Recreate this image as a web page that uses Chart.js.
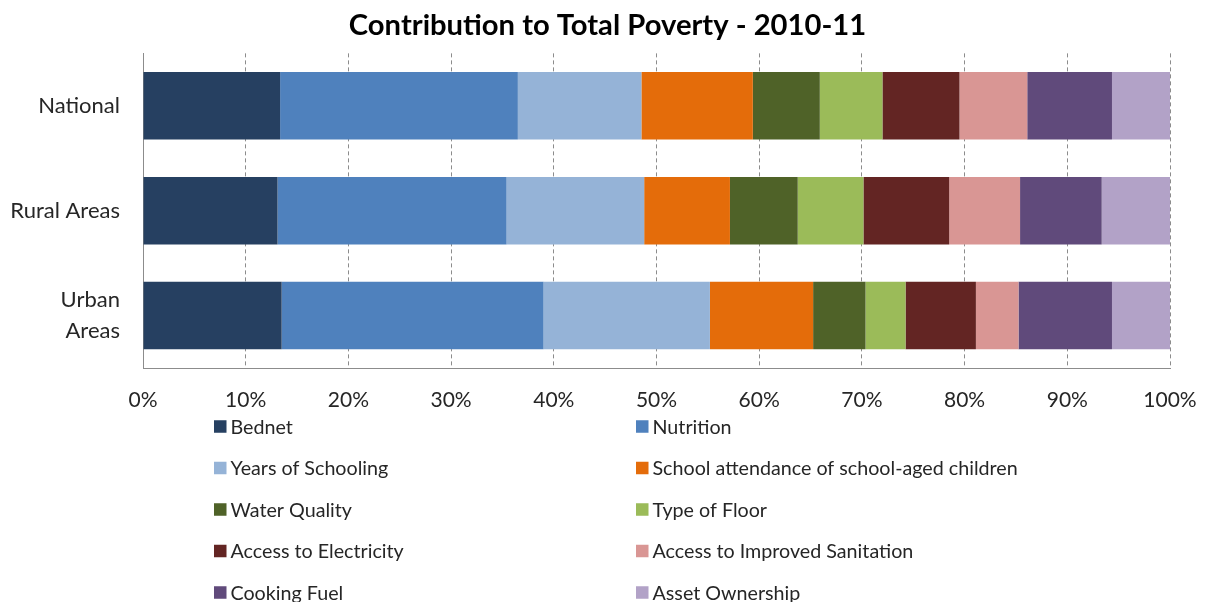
<!DOCTYPE html>
<html>
<head>
<meta charset="utf-8">
<script src="https://cdn.jsdelivr.net/npm/chart.js@4.4.1/dist/chart.umd.min.js"></script>
<style>
  html, body { margin: 0; padding: 0; background: #ffffff; }
  #wrap { width: 1206px; height: 602px; position: relative; }
</style>
</head>
<body>
<div id="wrap"><canvas id="c" width="1206" height="602"></canvas></div>
<script>
// ---- data ----
const chartTitle = 'Contribution to Total Poverty - 2010-11';
const categories = ['National', 'Rural Areas', ['Urban', 'Areas']];
const seriesNames = [
  'Bednet', 'Nutrition', 'Years of Schooling', 'School attendance of school-aged children',
  'Water Quality', 'Type of Floor', 'Access to Electricity', 'Access to Improved Sanitation',
  'Cooking Fuel', 'Asset Ownership'
];
const bednet      = [13.35, 13.1, 13.5];
const nutrition   = [23.15, 22.3, 25.5];
const schooling   = [12.03, 13.4, 16.2];
const attendance  = [10.85, 8.35, 10.05];
const water       = [6.52, 6.6, 5.1];
const floorType   = [6.1, 6.4, 3.9];
const electricity = [7.5, 8.35, 6.85];
const sanitation  = [6.6, 6.9, 4.15];
const cookingFuel = [8.25, 7.95, 9.1];
const assets      = [5.65, 6.65, 5.65];
const xTickValues = [0, 10, 20, 30, 40, 50, 60, 70, 80, 90, 100];

const seriesValues = [bednet, nutrition, schooling, attendance, water, floorType, electricity, sanitation, cookingFuel, assets];
const seriesColors = ['#264061', '#4F81BD', '#95B3D7', '#E46C0A', '#4F6228', '#9BBB59', '#632523', '#D99694', '#604A7B', '#B2A2C7'];

const FONT = 'Lato, "Open Sans", sans-serif';
const TEXT = '#262626';

const gridLegend = {
  id: 'gridLegend',
  afterDraw(chart, args, opts) {
    const ctx = chart.ctx;
    ctx.save();
    ctx.font = opts.fontSize + 'px ' + FONT;
    ctx.textBaseline = 'middle';
    ctx.textAlign = 'left';
    chart.data.datasets.forEach((ds, i) => {
      const col = i % 2, row = Math.floor(i / 2);
      const x = opts.colX[col];
      const y = opts.rowY0 + row * opts.rowGap;
      ctx.fillStyle = ds.backgroundColor;
      ctx.fillRect(x, y - opts.box / 2, opts.box, opts.box);
      ctx.fillStyle = TEXT;
      ctx.fillText(ds.label, x + opts.box + 4, y + 1);
    });
    ctx.restore();
  }
};

const titleText = {
  id: 'titleText',
  afterDraw(chart, args, opts) {
    const ctx = chart.ctx;
    ctx.save();
    ctx.font = 'bold ' + opts.fontSize + 'px ' + FONT;
    ctx.fillStyle = '#000000';
    ctx.textAlign = 'center';
    ctx.textBaseline = 'middle';
    ctx.fillText(opts.text, opts.x, opts.y);
    ctx.restore();
  }
};

new Chart(document.getElementById('c'), {
  type: 'bar',
  data: {
    labels: categories,
    datasets: seriesNames.map((name, i) => ({
      label: name,
      data: seriesValues[i],
      backgroundColor: seriesColors[i],
      borderWidth: 0,
      barPercentage: 0.643,
      categoryPercentage: 1.0
    }))
  },
  options: {
    indexAxis: 'y',
    responsive: false,
    animation: false,
    layout: { padding: { left: 0, right: 36, top: 52, bottom: 0 } },
    scales: {
      x: {
        stacked: true,
        min: 0, max: 100,
        afterBuildTicks(scale) { scale.ticks = xTickValues.map(v => ({ value: v })); },
        afterFit(scale) { scale.height = 234; scale.paddingLeft = 0; scale.paddingRight = 0; },
        ticks: {
          callback: v => v + '%',
          color: TEXT,
          padding: 20,
          font: { family: FONT, size: 21 }
        },
        grid: { color: '#8c8c8c', lineWidth: 1, drawTicks: false },
        border: { display: true, color: '#8c8c8c', width: 1, dash: [4, 3] }
      },
      y: {
        stacked: true,
        afterFit(scale) { scale.width = 143; },
        ticks: {
          color: TEXT,
          padding: 23,
          font: { family: FONT, size: 22, lineHeight: 1.38 }
        },
        grid: { display: false, drawTicks: false },
        border: { display: true, color: '#8c8c8c', width: 1 }
      }
    },
    plugins: {
      legend: { display: false },
      tooltip: { enabled: false },
      title: { display: false },
      titleText: { text: chartTitle, x: 607.5, y: 26, fontSize: 29.2 },
      gridLegend: { colX: [214, 636], rowY0: 426.5, rowGap: 41.5, box: 12.5, fontSize: 19.7 }
    }
  },
  plugins: [gridLegend, titleText]
});
</script>
</body>
</html>
